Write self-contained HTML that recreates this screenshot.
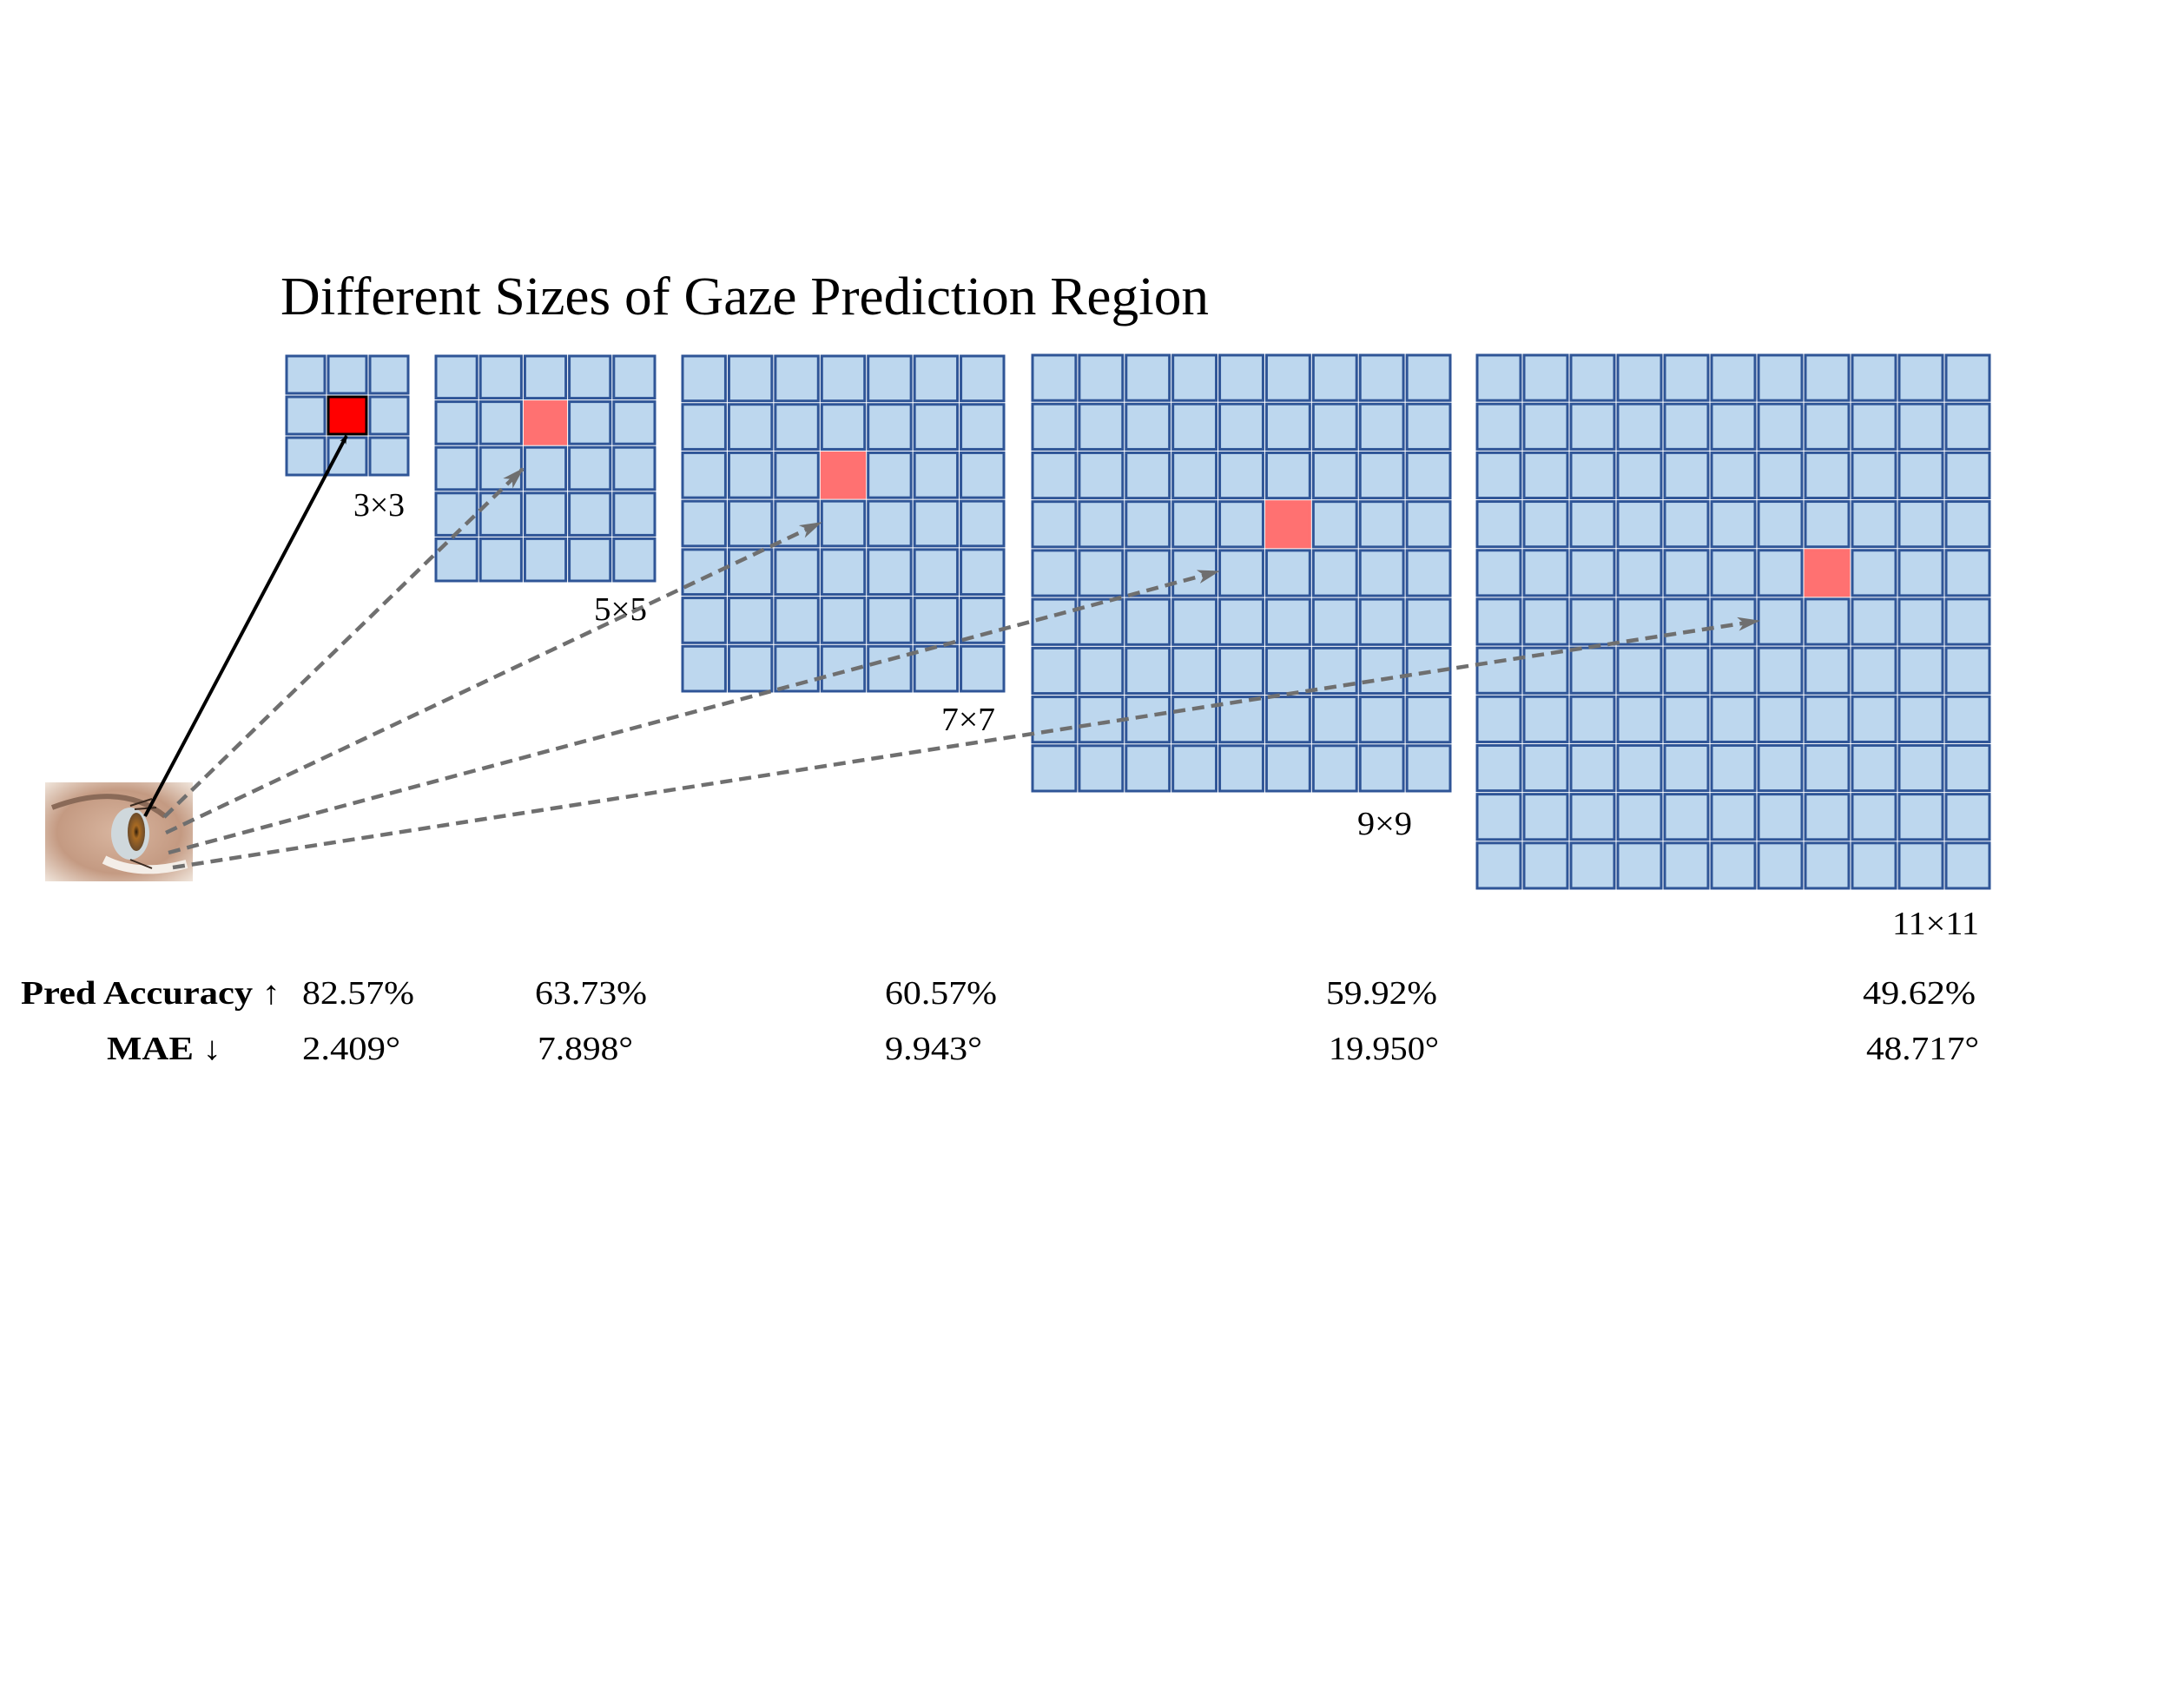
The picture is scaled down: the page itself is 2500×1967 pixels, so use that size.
<!DOCTYPE html>
<html><head><meta charset="utf-8"><style>
html,body{margin:0;padding:0;background:#fff;}
svg{display:block;}
text{font-family:"Liberation Serif","Times New Roman",serif;fill:#000;}
</style></head><body>
<svg id="fig" width="2500" height="1967" viewBox="0 0 2500 1967" xmlns="http://www.w3.org/2000/svg">
<defs>
<marker id="ahBlack" markerWidth="10" markerHeight="8" refX="9" refY="4" orient="auto" markerUnits="userSpaceOnUse"><path d="M0,0 L10,4 L0,8 L3,4 z" fill="#000"/></marker>
<marker id="ahGray" markerWidth="26" markerHeight="16" refX="24" refY="8" orient="auto" markerUnits="userSpaceOnUse"><path d="M0,0 L26,8 L0,16 L7,8 z" fill="#6f6f6f"/></marker>
<radialGradient id="skin" cx="0.5" cy="0.5" r="0.7"><stop offset="0" stop-color="#d9b6a0"/><stop offset="0.6" stop-color="#c49a82"/><stop offset="1" stop-color="#efe4da"/></radialGradient>
<radialGradient id="iris" cx="0.5" cy="0.5" r="0.5"><stop offset="0" stop-color="#2a1a0a"/><stop offset="0.35" stop-color="#a86a22"/><stop offset="1" stop-color="#6a4a2a"/></radialGradient>
</defs>
<text x="323" y="362" font-size="62" textLength="1069" lengthAdjust="spacingAndGlyphs">Different Sizes of Gaze Prediction Region</text>
<g id="grids"></g>
<g id="eye">
<rect x="52" y="901" width="170" height="114" fill="url(#skin)"/>
<path d="M60,930 Q140,900 190,940" stroke="#8a6a58" stroke-width="6" fill="none"/>
<path d="M120,990 Q160,1010 215,995" stroke="#f4eee8" stroke-width="10" fill="none"/>
<ellipse cx="150" cy="960" rx="22" ry="30" fill="#cfd8dc"/>
<ellipse cx="157" cy="958" rx="10" ry="22" fill="url(#iris)"/>
<path d="M150,928 L175,920 M155,932 L180,930 M150,990 L175,1000" stroke="#3a2a20" stroke-width="2"/>
</g>
<g id="arrows"></g>
<g id="metrics"></g>
</svg>
<script>
// data
const gridSizes = [3, 5, 7, 9, 11];
const gridLabels = ["3×3", "5×5", "7×7", "9×9", "11×11"];
const accuracyLabels = ["82.57%", "63.73%", "60.57%", "59.92%", "49.62%"];
const maeLabels = ["2.409°", "7.898°", "9.943°", "19.950°", "48.717°"];
const targetRow = [1, 1, 2, 3, 4];
const targetCol = [1, 2, 3, 5, 7];

// layout (not data)
const gridBoxes = [[328,408,472,549],[500,408,756,671],[784,408,1158,798],[1187,407,1672,913],[1699,407,2293,1025]];
const labelPos = [[466,594,59],[745,714,61],[1146,841,62],[1626,961,63],[2279,1076,100]];
const metricX = [[348,129,348,113],[616,129,619,110],[1019,129,1019,112],[1527,128,1530,127],[2145,130,2149,130]];
const arrowLines = [[167,940,399,502],[189,941,602,540],[191,959,945,602],[194,982,1403,658],[199,999,2025,715]];

const NS = "http://www.w3.org/2000/svg";
function mk(tag, attrs, parent){const e=document.createElementNS(NS,tag);for(const k in attrs)e.setAttribute(k,attrs[k]);parent.appendChild(e);return e;}

const gG = document.getElementById('grids');
gridSizes.forEach((n,i)=>{
  const [x0,y0,x1,y1]=gridBoxes[i];
  const g=mk('g',{},gG);
  
  
  const pw=(x1-x0)/n, ph=(y1-y0)/n;
  for(let r=0;r<n;r++)for(let c=0;c<n;c++){
    const hit=(r===targetRow[i]&&c===targetCol[i]);
    let fill='#bdd7ee', stroke='#2f5597';
    if(hit){fill = i===0?'#ff0000':'#ff7171'; stroke = i===0?'#000':'#ff7171';}
    const cell=mk('rect',{x:x0+c*pw+2,y:y0+r*ph+2,width:pw-4,height:ph-4,fill:fill,stroke:stroke,'stroke-width':3},g);
    
    
  }
  const [lx,ly,lw]=labelPos[i];
  const t=mk('text',{x:lx-lw,y:ly,'font-size':38,textLength:lw,lengthAdjust:'spacingAndGlyphs'},gG);
  t.textContent=gridLabels[i];
  
  
});

const aG=document.getElementById('arrows');
arrowLines.forEach((a,i)=>{
  const l=mk('line',{x1:a[0],y1:a[1],x2:a[2],y2:a[3]},aG);
  if(i===0){l.setAttribute('stroke','#000');l.setAttribute('stroke-width','4');l.setAttribute('marker-end','url(#ahBlack)');}
  else{l.setAttribute('stroke','#6f6f6f');l.setAttribute('stroke-width','4.5');l.setAttribute('stroke-dasharray','14 8');l.setAttribute('marker-end','url(#ahGray)');}
  
  
});

const mG=document.getElementById('metrics');
const h1=mk('text',{x:24,y:1156,'font-size':38,'font-weight':'bold',textLength:299,lengthAdjust:'spacingAndGlyphs'},mG);
h1.textContent='Pred Accuracy ↑';


const h2=mk('text',{x:123,y:1220,'font-size':38,'font-weight':'bold',textLength:132,lengthAdjust:'spacingAndGlyphs'},mG);
h2.textContent='MAE ↓';


gridSizes.forEach((n,i)=>{
  const [ax,aw,mx,mw]=metricX[i];
  const t1=mk('text',{x:ax,y:1156,'font-size':38,textLength:aw,lengthAdjust:'spacingAndGlyphs'},mG);
  t1.textContent=accuracyLabels[i];
  
  
  const t2=mk('text',{x:mx,y:1220,'font-size':38,textLength:mw,lengthAdjust:'spacingAndGlyphs'},mG);
  t2.textContent=maeLabels[i];
  
  
});
</script>
</body></html>
